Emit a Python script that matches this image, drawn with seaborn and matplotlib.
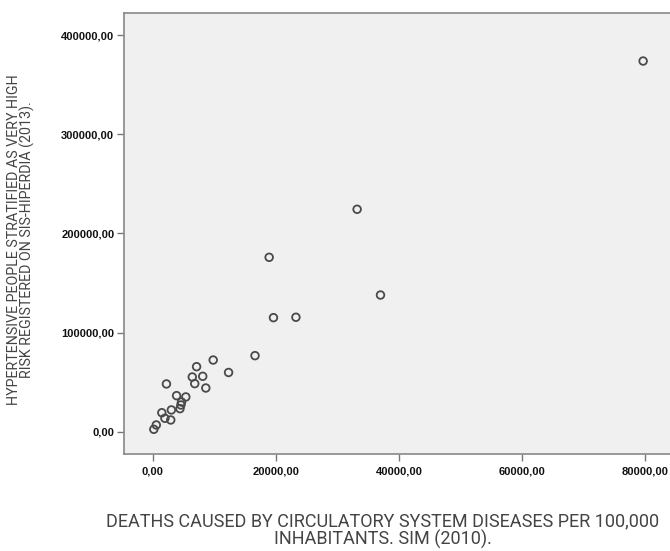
import matplotlib
matplotlib.use("Agg")
import matplotlib.pyplot as plt
import seaborn as sns
import pandas as pd

# deaths per 100,000 inhabitants (SIM 2010) vs very high risk hypertensives (SIS-HIPERDIA 2013)
muertes = [79700, 33200, 18900, 37000, 19600, 23250, 16600, 9800, 7100, 12300,
           6400, 8100, 6800, 8600, 2200, 3850, 5350, 4650, 4550, 4400,
           3000, 1450, 1950, 2900, 550, 150]
hipertensos = [373800, 224400, 176000, 138000, 115200, 115600, 76900, 72500, 65800, 59950,
               55400, 56100, 48700, 44300, 48400, 36600, 35300, 30200, 27200, 23500,
               22200, 19400, 13800, 12100, 7050, 2700]

x_ticks = [0, 20000, 40000, 60000, 80000]
x_tick_labels = ["0,00", "20000,00", "40000,00", "60000,00", "80000,00"]
y_ticks = [0, 100000, 200000, 300000, 400000]
y_tick_labels = ["0,00", "100000,00", "200000,00", "300000,00", "400000,00"]

df = pd.DataFrame({"muertes": muertes, "hipertensos": hipertensos})

sns.set_style("white")
plt.rcParams["font.family"] = ["Liberation Sans", "DejaVu Sans"]

fig = plt.figure(figsize=(6.7, 5.51), dpi=100)
ax = fig.add_axes([124 / 670, 97 / 551, 546 / 670, 441 / 551])
ax.set_facecolor("#f0f0f0")

sns.scatterplot(data=df, x="muertes", y="hipertensos", ax=ax, marker="o", s=30,
                facecolor="none", edgecolor="#4a4a4a", linewidth=1.3)

ax.set_xlim(-4700, 84070)
ax.set_ylim(-22200, 422200)
ax.set_xticks(x_ticks)
ax.set_xticklabels(x_tick_labels)
ax.set_yticks(y_ticks)
ax.set_yticklabels(y_tick_labels)
ax.tick_params(direction="out", length=5, width=1, color="#777777", labelsize=8,
               labelcolor="#111111", pad=2, left=True, bottom=True)
for lab in ax.get_xticklabels() + ax.get_yticklabels():
    lab.set_fontweight("bold")
ax.tick_params(axis="x", pad=4)

for side in ["left", "bottom", "top"]:
    ax.spines[side].set_color("#888888")
    ax.spines[side].set_linewidth(1.2)
ax.spines["right"].set_visible(False)

ax.set_xlabel("")
ax.set_ylabel("")

fig.text(383 / 670, 1 - 531 / 551,
         "DEATHS CAUSED BY CIRCULATORY SYSTEM DISEASES PER 100,000\nINHABITANTS. SIM (2010).",
         ha="center", va="center", fontsize=13, color="#444444", linespacing=0.95,
         family=["Roboto", "DejaVu Sans"])
fig.text(21 / 670, 1 - 240 / 551,
         "HYPERTENSIVE PEOPLE STRATIFIED AS VERY HIGH\nRISK REGISTERED ON SIS-HIPERDIA (2013).",
         ha="center", va="center", rotation=90, fontsize=10.3, color="#444444", linespacing=0.95,
         family=["Roboto", "DejaVu Sans"])

fig.savefig("out.png", dpi=100)
